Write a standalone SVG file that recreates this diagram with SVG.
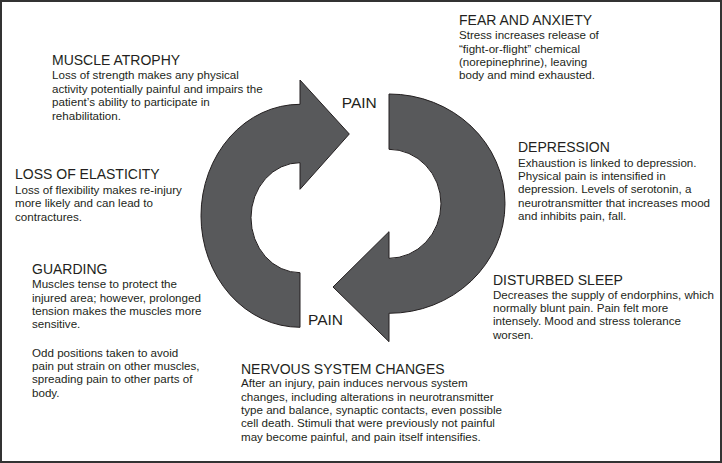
<svg xmlns="http://www.w3.org/2000/svg" width="722" height="463" viewBox="0 0 722 463">
<style>
.h{font-family:"Liberation Sans",Arial,sans-serif;font-size:14px;fill:#231f20}
.b{font-family:"Liberation Sans",Arial,sans-serif;font-size:11.6px;fill:#231f20}
.p{font-family:"Liberation Sans",Arial,sans-serif;font-size:15.5px;fill:#231f20}
.arr{fill:#58595b;stroke:#231f20;stroke-width:1;stroke-linejoin:miter}
</style>
<rect x="1" y="1" width="720" height="461" fill="#ffffff" stroke="#333333" stroke-width="2"/>
<g id="connectors">
<path class="arr" d="M300,104.3 A99,111.5 0 0 0 300,327.3 L300,272.7 A49,55 0 0 1 300,162.7 L300,189.3 L349.3,134 L300,80 Z"/>
<path class="arr" d="M389,94 A116,109.65 0 0 1 389,313.3 L389,341.7 L333,287 L389,231.7 L389,258.3 A52,54.5 0 0 0 389,149.3 Z"/>
</g>
<g id="pain-top"><text class="p" x="341.7" y="108">PAIN</text></g>
<g id="pain-bottom"><text class="p" x="308" y="324.5">PAIN</text></g>
<g id="muscle-atrophy">
<text class="h" x="52" y="65">MUSCLE ATROPHY</text>
<text class="b" x="52" y="79">Loss of strength makes any physical</text>
<text class="b" x="52" y="92.5">activity potentially painful and impairs the</text>
<text class="b" x="52" y="106">patient’s ability to participate in</text>
<text class="b" x="52" y="119.5">rehabilitation.</text>
</g>
<g id="loss-of-elasticity">
<text class="h" x="15" y="179.3">LOSS OF ELASTICITY</text>
<text class="b" x="15" y="193.5">Loss of flexibility makes re-injury</text>
<text class="b" x="15" y="207">more likely and can lead to</text>
<text class="b" x="15" y="220.5">contractures.</text>
</g>
<g id="guarding">
<text class="h" x="32" y="274">GUARDING</text>
<text class="b" x="32" y="288.3">Muscles tense to protect the</text>
<text class="b" x="32" y="301.7">injured area; however, prolonged</text>
<text class="b" x="32" y="315">tension makes the muscles more</text>
<text class="b" x="32" y="328.4">sensitive.</text>
<text class="b" x="32" y="356.5">Odd positions taken to avoid</text>
<text class="b" x="32" y="370">pain put strain on other muscles,</text>
<text class="b" x="32" y="383.4">spreading pain to other parts of</text>
<text class="b" x="32" y="396.8">body.</text>
</g>
<g id="nervous-system-changes">
<text class="h" x="241" y="373.5">NERVOUS SYSTEM CHANGES</text>
<text class="b" x="241" y="387.3">After an injury, pain induces nervous system</text>
<text class="b" x="241" y="400.7">changes, including alterations in neurotransmitter</text>
<text class="b" x="241" y="414">type and balance, synaptic contacts, even possible</text>
<text class="b" x="241" y="427.4">cell death. Stimuli that were previously not painful</text>
<text class="b" x="241" y="440.8">may become painful, and pain itself intensifies.</text>
</g>
<g id="fear-and-anxiety">
<text class="h" x="459" y="25">FEAR AND ANXIETY</text>
<text class="b" x="459" y="39">Stress increases release of</text>
<text class="b" x="459" y="52.5">“fight-or-flight” chemical</text>
<text class="b" x="459" y="66">(norepinephrine), leaving</text>
<text class="b" x="459" y="79.4">body and mind exhausted.</text>
</g>
<g id="depression">
<text class="h" x="518" y="152.3">DEPRESSION</text>
<text class="b" x="518" y="166.5">Exhaustion is linked to depression.</text>
<text class="b" x="518" y="180">Physical pain is intensified in</text>
<text class="b" x="518" y="193.3">depression. Levels of serotonin, a</text>
<text class="b" x="518" y="206.7">neurotransmitter that increases mood</text>
<text class="b" x="518" y="220">and inhibits pain, fall.</text>
</g>
<g id="disturbed-sleep">
<text class="h" x="493" y="285">DISTURBED SLEEP</text>
<text class="b" x="493" y="298.5">Decreases the supply of endorphins, which</text>
<text class="b" x="493" y="312">normally blunt pain. Pain felt more</text>
<text class="b" x="493" y="325.3">intensely. Mood and stress tolerance</text>
<text class="b" x="493" y="338.7">worsen.</text>
</g>
</svg>
